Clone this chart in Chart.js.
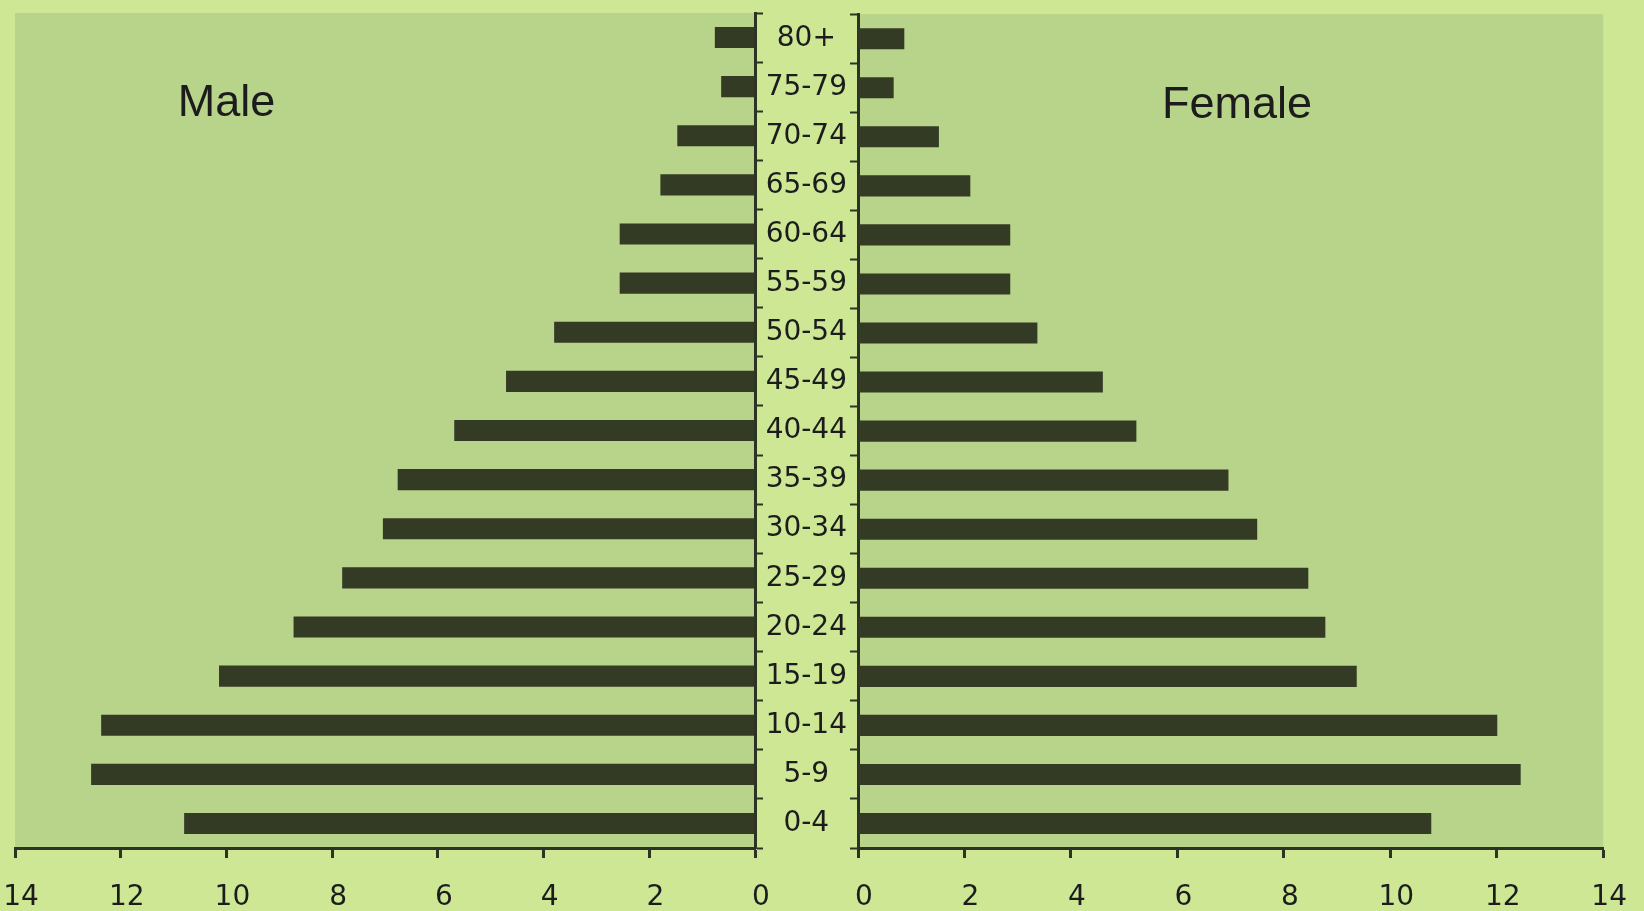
<!DOCTYPE html>
<html><head><meta charset="utf-8">
<script src="https://cdn.jsdelivr.net/npm/chart.js@4.4.1/dist/chart.umd.min.js"></script>
<style>
html,body{margin:0;padding:0;background:#cde795;width:1644px;height:911px;overflow:hidden;}
#wrap{position:relative;width:1644px;height:911px;}
canvas{position:absolute;top:0;}
#cl{left:0;width:800px;height:911px;}
#cr{left:740px;width:904px;height:911px;}
</style></head><body>
<div id="wrap"><canvas id="cl" width="800" height="911"></canvas><canvas id="cr" width="904" height="911"></canvas></div>
<script>
const ageGroups = ['80+','75-79','70-74','65-69','60-64','55-59','50-54','45-49','40-44','35-39','30-34','25-29','20-24','15-19','10-14','5-9','0-4'];
const maleValues = [0.76,0.64,1.47,1.79,2.56,2.56,3.80,4.71,5.69,6.76,7.04,7.81,8.73,10.14,12.37,12.56,10.80];
const femaleValues = [0.87,0.67,1.52,2.11,2.86,2.86,3.37,4.60,5.23,6.96,7.50,8.46,8.78,9.37,12.01,12.45,10.77];
const xTickValues = [0,2,4,6,8,10,12,14];
const sideTitles = ['Male','Female'];

const PLOT_BG = '#b8d38a';
const BAR = '#343b25';
const AXIS = '#2c3322';
const TXT = '#1c1c1c';
const tickFont = {family:"'DejaVu Sans', sans-serif", size:28};
const catFont = {family:"'DejaVu Sans', sans-serif", size:28, lineHeight:0.8};

const plotBg = {
  id:'plotBg',
  beforeDraw(c, a, o){
    const {ctx, chartArea:{left,top,right,bottom}} = c;
    ctx.save(); ctx.fillStyle = o.color; ctx.fillRect(left, top, right-left, bottom-top); ctx.restore();
  }
};
const sideTitle = {
  id:'sideTitle',
  afterDraw(c, a, o){
    const {ctx} = c;
    const x = c.scales.x.getPixelForValue(o.value);
    const y = c.chartArea.top + o.dy;
    ctx.save();
    ctx.font = "45px 'Liberation Sans', Arial, sans-serif";
    ctx.fillStyle = TXT; ctx.textAlign = 'center'; ctx.textBaseline = 'middle';
    ctx.fillText(o.text, x, y);
    ctx.restore();
  }
};

function xAxis(reverse){
  return {
    type:'linear', min:0, max:14, reverse,
    afterBuildTicks: s => { s.ticks = xTickValues.map(v => ({value:v})); },
    afterFit: s => { s.height = 63; },
    grid:{drawOnChartArea:false, drawTicks:true, tickLength:10, tickWidth:3, color:AXIS, tickColor:AXIS},
    border:{display:true, color:AXIS, width:3},
    ticks:{font:tickFont, color:TXT, padding:23, labelOffset:6, maxRotation:0, autoSkip:false}
  };
}

new Chart(document.getElementById('cl'), {
  type:'bar',
  data:{labels:ageGroups, datasets:[{data:maleValues, backgroundColor:BAR, borderWidth:0, barPercentage:0.43, categoryPercentage:1}]},
  options:{
    indexAxis:'y', responsive:false, animation:false, devicePixelRatio:1,
    layout:{autoPadding:false, padding:{left:15, right:37, top:13, bottom:0}},
    plugins:{legend:{display:false}, tooltip:{enabled:false}, plotBg:{color:PLOT_BG}, sideTitle:{text:sideTitles[0], value:10.0, dy:91}},
    scales:{
      x:xAxis(true),
      y:{type:'category', position:'right', offset:true,
         afterFit: s => { s.width = 8; },
         grid:{offset:true, drawOnChartArea:false, tickLength:8, tickWidth:2, color:AXIS, tickColor:AXIS},
         border:{display:true, color:AXIS, width:3},
         ticks:{display:false}}
    }
  },
  plugins:[plotBg, sideTitle]
});

new Chart(document.getElementById('cr'), {
  type:'bar',
  data:{labels:ageGroups, datasets:[{data:femaleValues, backgroundColor:BAR, borderWidth:0, barPercentage:0.43, categoryPercentage:1}]},
  options:{
    indexAxis:'y', responsive:false, animation:false, devicePixelRatio:1,
    layout:{autoPadding:false, padding:{left:0, right:40, top:13, bottom:0}},
    plugins:{legend:{display:false}, tooltip:{enabled:false}, plotBg:{color:PLOT_BG}, sideTitle:{text:sideTitles[1], value:7.12, dy:91}},
    scales:{
      x:xAxis(false),
      y:{type:'category', position:'left', offset:true,
         afterFit: s => { s.width = 118; },
         grid:{offset:true, drawOnChartArea:false, tickLength:8, tickWidth:2, color:AXIS, tickColor:AXIS},
         border:{display:true, color:AXIS, width:3},
         ticks:{font:catFont, color:TXT, padding:3, crossAlign:'center', autoSkip:false}}
    }
  },
  plugins:[plotBg, sideTitle]
});
</script>
</body></html>
